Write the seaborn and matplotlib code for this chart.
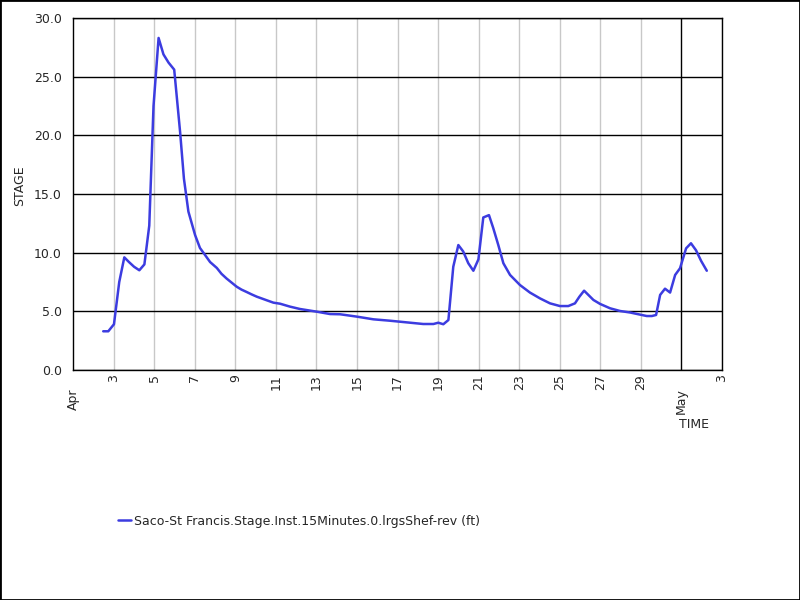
import pandas as pd
import numpy as np
import matplotlib
matplotlib.use("Agg")
import matplotlib.pyplot as plt
import seaborn as sns

# days since Apr 1 00:00 and stage values (ft)
days = [1.49, 1.74, 2.02, 2.28, 2.53, 2.76, 3.01, 3.27, 3.52, 3.76, 3.97, 4.22,
        4.46, 4.71, 4.99, 5.28, 5.47, 5.69, 6.02, 6.26, 6.47, 6.76, 7.09, 7.32,
        7.57, 7.82, 8.07, 8.31, 8.56, 8.80, 9.06, 9.30, 9.54, 9.88, 10.21, 10.70,
        11.19, 12.02, 12.67, 13.17, 13.99, 14.81, 15.63, 16.45, 17.27, 17.77, 18.01,
        18.26, 18.51, 18.75, 19.00, 19.24, 19.49, 19.74, 19.99, 20.23, 20.51, 20.72,
        20.97, 21.22, 21.55, 22.04, 22.53, 23.03, 23.52, 24.01, 24.42, 24.75, 24.97,
        25.20, 25.41, 25.66, 25.99, 26.48, 26.97, 27.47, 27.96, 28.29, 28.54, 28.75,
        28.95, 29.19, 29.44, 29.69, 29.93, 30.23, 30.47, 30.72, 30.97, 31.25]
stage = [3.3, 3.3, 3.9, 7.5, 9.6, 9.2, 8.8, 8.5, 9.0, 12.3, 22.5, 28.3,
         26.9, 26.2, 25.6, 20.3, 16.3, 13.5, 11.5, 10.4, 9.9, 9.2, 8.7, 8.2,
         7.8, 7.45, 7.1, 6.85, 6.65, 6.45, 6.25, 6.1, 5.95, 5.74, 5.65, 5.4,
         5.2, 4.97, 4.77, 4.75, 4.55, 4.32, 4.2, 4.06, 3.92, 3.92, 4.03,
         3.9, 4.26, 8.8, 10.65, 10.1, 9.1, 8.46, 9.43, 13.0, 13.2, 12.1,
         10.65, 9.1, 8.1, 7.24, 6.6, 6.1, 5.68, 5.45, 5.45, 5.68, 6.25,
         6.76, 6.4, 5.97, 5.63, 5.26, 5.03, 4.9, 4.72, 4.6, 4.6, 4.69,
         6.4, 6.93, 6.6, 8.1, 8.67, 10.37, 10.8, 10.2, 9.3, 8.46]
series_name = "Saco-St Francis.Stage.Inst.15Minutes.0.lrgsShef-rev (ft)"
y_ticks = [0, 5, 10, 15, 20, 25, 30]

start = pd.Timestamp("2024-04-01")
may1 = pd.Timestamp("2024-05-01")
end = pd.Timestamp("2024-05-03")
df = pd.DataFrame({"time": start + pd.to_timedelta(days, unit="D"), "stage": stage})

sns.set_style("white")
plt.rcParams["font.family"] = ["DejaVu Sans"]

fig = plt.figure(figsize=(8, 6), dpi=100)
ax = fig.add_axes([73 / 800, 1 - 370 / 600, 649 / 800, 352 / 600])

# grid: grey on odd days, black at month start and at y steps
day_ticks = [d for d in pd.date_range("2024-04-03", "2024-04-30", freq="2D")] + [end]
for d in day_ticks:
    ax.axvline(d, color="#c8c8c8", lw=1, zorder=0)
ax.axvline(may1, color="black", lw=1, zorder=1)
for v in y_ticks:
    ax.axhline(v, color="black", lw=1, zorder=1)

sns.lineplot(data=df, x="time", y="stage", ax=ax, color="#3c3ce0", lw=1.8,
             label=series_name, legend=False, zorder=3)

ax.set_xlim(start, end)
ax.set_ylim(0, 30)
ax.set_yticks(y_ticks)
ax.set_yticklabels([f"{v:.1f}" for v in y_ticks], fontsize=9)
ax.tick_params(axis="y", length=4, width=1, pad=4, color="black")

ax.set_xticks(day_ticks)
ax.set_xticklabels([str(d.day) for d in day_ticks], rotation=90, fontsize=9)
ax.tick_params(axis="x", which="major", length=0, pad=3)
ax.set_xticks([start, may1], minor=True)
ax.set_xticklabels(["Apr", "May"], minor=True, rotation=90, fontsize=9)
ax.tick_params(axis="x", which="minor", length=13, width=1, pad=0, color="black")

for s in ax.spines.values():
    s.set_visible(True)
    s.set_color("black")
    s.set_linewidth(1)

ax.set_xlabel("")
ax.set_ylabel("")
fig.text(20 / 800, 1 - 186 / 600, "STAGE", rotation=90, ha="center", va="center", fontsize=9)
fig.text(694 / 800, 1 - 424 / 600, "TIME", ha="center", va="center", fontsize=9)

handles, labels = ax.get_legend_handles_labels()
fig.legend(handles, labels, loc="center left", bbox_to_anchor=(107 / 800, 1 - 521 / 600),
           frameon=False, fontsize=9, handlelength=1.0, handletextpad=0.3)

# outer frame of the image
fig.patches.append(plt.Rectangle((0, 0), 1, 1, transform=fig.transFigure,
                                 fill=False, edgecolor="black", lw=2, clip_on=False))

fig.savefig("out.png", dpi=100)
